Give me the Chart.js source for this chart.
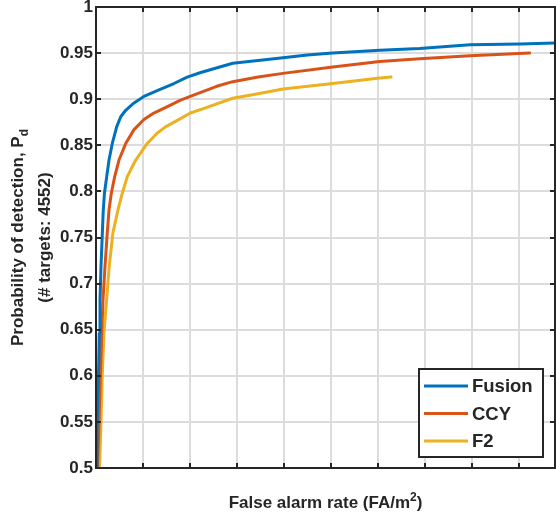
<!DOCTYPE html>
<html>
<head>
<meta charset="utf-8">
<script src="https://cdn.jsdelivr.net/npm/chart.js@4.4.1/dist/chart.umd.min.js"></script>
<style>
  html, body { margin: 0; padding: 0; background: #fff; }
  #wrap { width: 556px; height: 512px; }
</style>
</head>
<body>
<div id="wrap"><canvas id="rocChart" width="556" height="512"></canvas></div>
<script>
// ROC curves: false alarm rate (grid units) vs probability of detection
const fusionFa = [0, 0.021, 0.036, 0.057, 0.07, 0.085, 0.106, 0.135, 0.155, 0.18, 0.228, 0.277, 0.347, 0.44, 0.526, 0.632, 0.809, 1.02, 1.34, 1.66, 1.94, 2.23, 2.91, 3.45, 3.98, 4.5, 5.04, 6.04, 6.89, 7.96, 9.02, 9.77];
const fusionPd = [0.5, 0.538, 0.574, 0.61, 0.646, 0.682, 0.718, 0.755, 0.78, 0.798, 0.816, 0.834, 0.852, 0.87, 0.881, 0.888, 0.896, 0.903, 0.91, 0.917, 0.924, 0.929, 0.939, 0.942, 0.945, 0.948, 0.95, 0.953, 0.955, 0.959, 0.96, 0.961];

const ccyFa = [0.03, 0.057, 0.079, 0.1, 0.121, 0.149, 0.191, 0.24, 0.277, 0.326, 0.398, 0.489, 0.632, 0.809, 1.02, 1.23, 1.52, 1.8, 2.16, 2.57, 2.91, 3.45, 3.98, 5.04, 6.04, 6.89, 7.96, 9.23];
const ccyPd = [0.5, 0.538, 0.574, 0.61, 0.646, 0.682, 0.718, 0.755, 0.78, 0.798, 0.816, 0.834, 0.852, 0.867, 0.878, 0.885, 0.892, 0.899, 0.906, 0.914, 0.919, 0.924, 0.928, 0.935, 0.941, 0.944, 0.947, 0.95];

const f2Fa = [0.075, 0.1, 0.12, 0.14, 0.17, 0.225, 0.28, 0.36, 0.468, 0.56, 0.666, 0.845, 1.09, 1.3, 1.48, 1.73, 2.01, 2.3, 2.91, 3.45, 3.98, 5.04, 6.04, 6.28];
const f2Pd = [0.5, 0.538, 0.574, 0.61, 0.646, 0.682, 0.718, 0.755, 0.78, 0.798, 0.816, 0.834, 0.852, 0.863, 0.87, 0.877, 0.885, 0.89, 0.901, 0.906, 0.911, 0.917, 0.923, 0.924];

const seriesNames = ['Fusion', 'CCY', 'F2'];
const seriesColors = ['#0072BD', '#D95319', '#EDB120'];

const FONT = "'Liberation Sans', Arial, Helvetica, sans-serif";
const INK = '#262626';

function toPoints(xs, ys) {
    return xs.map((v, i) => ({ x: v, y: ys[i] }));
}

// axes box, inward tick marks, axis titles and legend
const matlabFrame = {
    id: 'matlabFrame',
    afterDatasetsDraw(chart) {
        const { ctx, chartArea: a, scales: { x, y } } = chart;
        ctx.save();
        ctx.strokeStyle = INK;
        ctx.lineWidth = 2;
        const tl = 5;
        ctx.beginPath();
        x.ticks.forEach(t => {
            const px = Math.round(x.getPixelForValue(t.value));
            ctx.moveTo(px, a.top); ctx.lineTo(px, a.top + tl);
            ctx.moveTo(px, a.bottom); ctx.lineTo(px, a.bottom - tl);
        });
        y.ticks.forEach(t => {
            const py = Math.round(y.getPixelForValue(t.value));
            ctx.moveTo(a.left, py); ctx.lineTo(a.left + tl, py);
            ctx.moveTo(a.right, py); ctx.lineTo(a.right - tl, py);
        });
        ctx.stroke();
        ctx.strokeRect(a.left, a.top, a.right - a.left, a.bottom - a.top);
        ctx.restore();
    },
    afterDraw(chart) {
        const { ctx, chartArea: a } = chart;
        ctx.save();
        ctx.fillStyle = INK;

        // x title with superscript
        const xt = 'False alarm rate (FA/m';
        ctx.font = 'bold 17px ' + FONT;
        const w1 = ctx.measureText(xt).width;
        ctx.font = 'bold 12px ' + FONT;
        const w2 = ctx.measureText('2').width;
        ctx.font = 'bold 17px ' + FONT;
        const w3 = ctx.measureText(')').width;
        let sx = (a.left + a.right) / 2 - (w1 + w2 + w3) / 2;
        const base = 508;
        ctx.textBaseline = 'alphabetic';
        ctx.textAlign = 'left';
        ctx.fillText(xt, sx, base);
        ctx.font = 'bold 12px ' + FONT;
        ctx.fillText('2', sx + w1, base - 7);
        ctx.font = 'bold 17px ' + FONT;
        ctx.fillText(')', sx + w1 + w2, base);

        // y title, two lines, rotated
        const cy = (a.top + a.bottom) / 2;
        ctx.translate(0, cy);
        ctx.rotate(-Math.PI / 2);
        const l1 = 'Probability of detection, P';
        ctx.font = 'bold 17px ' + FONT;
        const lw = ctx.measureText(l1).width;
        ctx.font = 'bold 12px ' + FONT;
        const dw = ctx.measureText('d').width;
        const start = -(lw + dw) / 2;
        ctx.font = 'bold 17px ' + FONT;
        ctx.fillText(l1, start, 23);
        ctx.font = 'bold 12px ' + FONT;
        ctx.fillText('d', start + lw, 28);
        ctx.font = 'bold 17px ' + FONT;
        ctx.textAlign = 'center';
        ctx.fillText('(# targets: 4552)', 0, 50);
        ctx.setTransform(1, 0, 0, 1, 0, 0);

        // legend, bottom right inside the axes
        const bw = 124, bh = 88;
        const bx = a.right - 12 - bw, by = a.bottom - 11 - bh;
        ctx.fillStyle = '#fff';
        ctx.fillRect(bx, by, bw, bh);
        ctx.strokeStyle = INK;
        ctx.lineWidth = 2;
        ctx.strokeRect(bx, by, bw, bh);
        ctx.font = 'bold 18.5px ' + FONT;
        ctx.textAlign = 'left';
        ctx.textBaseline = 'middle';
        chart.data.datasets.forEach((ds, i) => {
            const ry = by + 17 + i * 27.5;
            ctx.strokeStyle = ds.borderColor;
            ctx.lineWidth = 3;
            ctx.beginPath();
            ctx.moveTo(bx + 5, ry);
            ctx.lineTo(bx + 49, ry);
            ctx.stroke();
            ctx.fillStyle = INK;
            ctx.fillText(ds.label, bx + 53, ry + 1);
        });
        ctx.restore();
    }
};

const gridStyle = { color: '#dcdcdc', lineWidth: 2, drawTicks: false };

new Chart(document.getElementById('rocChart'), {
    type: 'line',
    data: {
        datasets: [
            { label: seriesNames[0], data: toPoints(fusionFa, fusionPd), borderColor: seriesColors[0] },
            { label: seriesNames[1], data: toPoints(ccyFa, ccyPd), borderColor: seriesColors[1] },
            { label: seriesNames[2], data: toPoints(f2Fa, f2Pd), borderColor: seriesColors[2] }
        ]
    },
    options: {
        responsive: false,
        animation: false,
        devicePixelRatio: 1,
        layout: { padding: { top: 7, right: 1, left: 0, bottom: 0 } },
        elements: {
            line: { borderWidth: 3, tension: 0, fill: false, borderJoinStyle: 'round', borderCapStyle: 'round' },
            point: { radius: 0, hoverRadius: 0 }
        },
        plugins: { legend: { display: false }, tooltip: { enabled: false } },
        scales: {
            x: {
                type: 'linear', min: 0, max: 9.77,
                ticks: { stepSize: 1, display: false, includeBounds: false },
                grid: gridStyle,
                border: { display: false },
                afterFit: s => { s.height = 44; s.paddingLeft = 0; s.paddingRight = 0; }
            },
            y: {
                type: 'linear', min: 0.5, max: 1,
                ticks: {
                    stepSize: 0.05, padding: 3, color: INK,
                    font: { family: FONT, size: 17, weight: 'bold' },
                    callback: v => String(Number(v.toFixed(2)))
                },
                grid: gridStyle,
                border: { display: false },
                afterFit: s => { s.width = 96; s.paddingTop = 0; s.paddingBottom = 0; }
            }
        }
    },
    plugins: [matlabFrame]
});
</script>
</body>
</html>
